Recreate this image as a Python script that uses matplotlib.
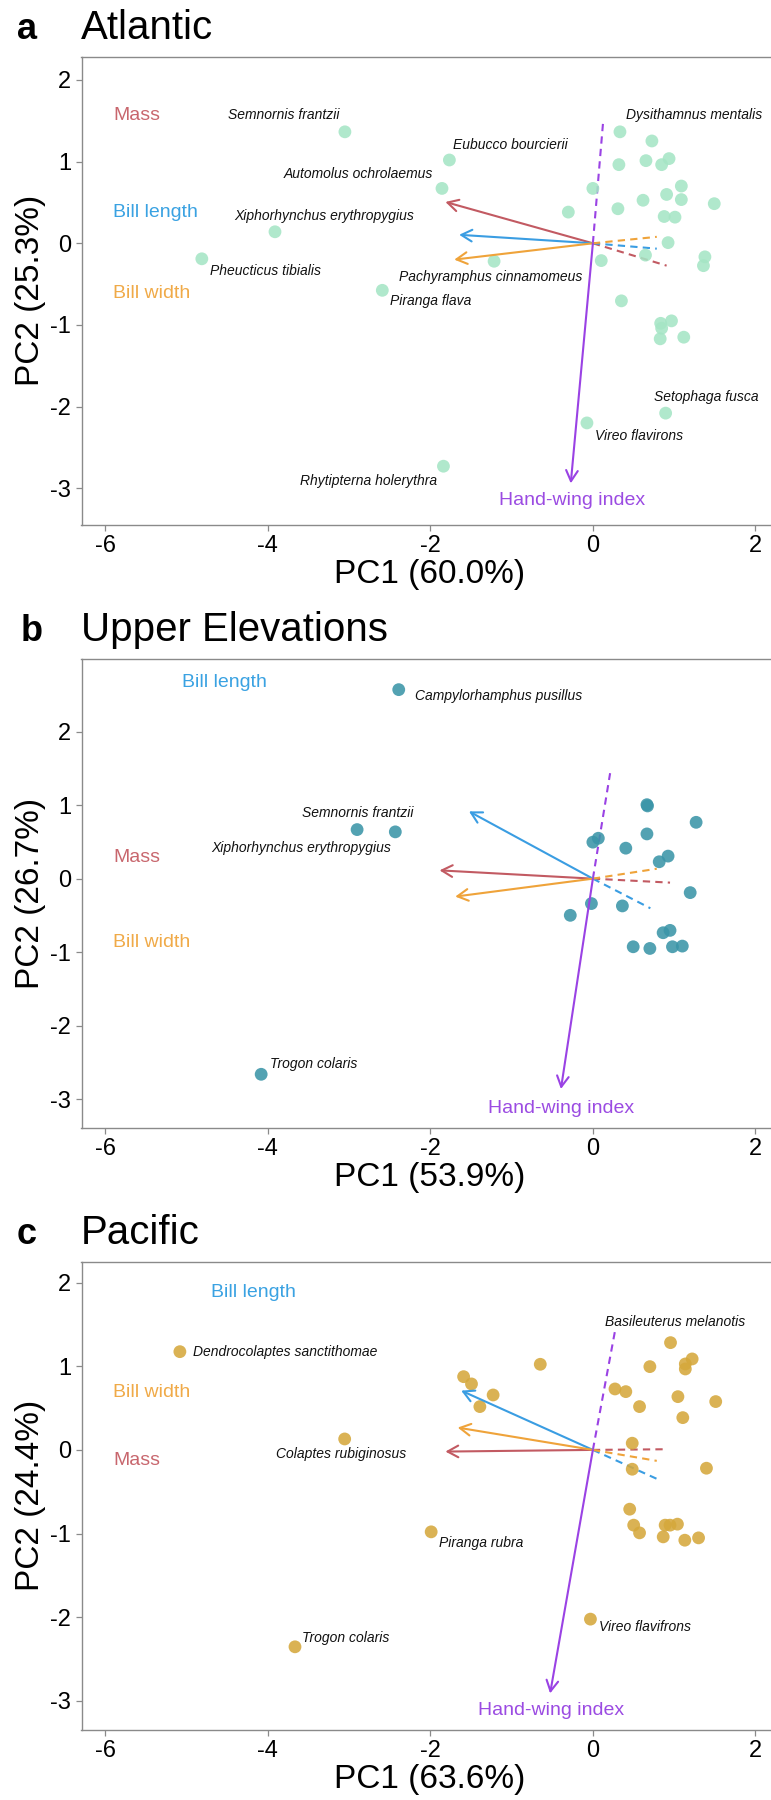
import matplotlib
matplotlib.use("Agg")
import matplotlib.pyplot as plt

plt.rcParams['font.family'] = ['Liberation Sans', 'DejaVu Sans']

# ---------------- DATA ----------------
titles = ["Atlantic", "Upper Elevations", "Pacific"]
letters = ["a", "b", "c"]
pc1_labels = ["PC1 (60.0%)", "PC1 (53.9%)", "PC1 (63.6%)"]
pc2_labels = ["PC2 (25.3%)", "PC2 (26.7%)", "PC2 (24.4%)"]
point_colors = ["#a5e5c5", "#3b95a8", "#d5a83c"]
ylims = [(-3.45, 2.285), (-3.39, 2.986), (-3.35, 2.251)]
xticks = [-6, -4, -2, 0, 2]
yticks = [-3, -2, -1, 0, 1, 2]

# species scores (PC1, PC2)
a_x = [-3.05, -1.765, -1.856, -3.91, -4.81, -1.215, -2.59, 0.895, -0.073, -1.838,
       0.333, 0.726, 0.320, 0.653, 0.846, 0.937, 0.0, 1.088, -0.302, 0.308, 0.617,
       0.907, 1.088, 1.493, 0.877, 1.01, 0.925, 0.103, 0.647, 1.378, 1.36,
       0.351, 0.834, 0.967, 0.846, 0.828, 1.118]
a_y = [1.365, 1.02, 0.672, 0.141, -0.19, -0.22, -0.576, -2.08, -2.2, -2.73,
       1.365, 1.253, 0.963, 1.012, 0.963, 1.037, 0.672, 0.701, 0.382, 0.423, 0.527,
       0.598, 0.535, 0.485, 0.328, 0.320, 0.008, -0.212, -0.145, -0.166, -0.274,
       -0.705, -0.98, -0.95, -1.04, -1.17, -1.15]

b_x = [-2.388, -2.90, -2.43, -4.08,
       0.665, 0.672, 1.27, 0.0, 0.067, 0.665, 0.405, 0.925, 0.816, 1.197,
       -0.018, 0.363, -0.278, 0.864, 0.949, 0.496, 0.701, 0.979, 1.1]
b_y = [2.573, 0.668, 0.637, -2.663,
       1.007, 0.99, 0.767, 0.497, 0.55, 0.609, 0.415, 0.307, 0.23, -0.19,
       -0.339, -0.371, -0.499, -0.736, -0.704, -0.927, -0.95, -0.927, -0.918]

c_x = [-5.08, -3.053, -1.989, -3.664, -0.03,
       -1.59, -1.493, -1.227, -1.39, -0.647, 0.272, 0.405, 0.574, 0.701, 0.955,
       1.137, 1.221, 1.137, 1.046, 1.511, 1.106, 0.484, 0.484, 1.397,
       0.453, 0.502, 0.574, 0.889, 0.949, 1.04, 0.865, 1.131, 1.3]
c_y = [1.175, 0.131, -0.98, -2.355, -2.024,
       0.876, 0.789, 0.657, 0.518, 1.024, 0.729, 0.697, 0.518, 0.996, 1.283,
       1.028, 1.088, 0.968, 0.637, 0.578, 0.386, 0.08, -0.231, -0.219,
       -0.709, -0.9, -0.992, -0.9, -0.9, -0.888, -1.04, -1.08, -1.052]

# species label text and anchor (data coords)
a_lab = ["Semnornis frantzii", "Dysithamnus mentalis", "Eubucco bourcierii",
         "Automolus ochrolaemus", "Xiphorhynchus erythropygius", "Pheucticus tibialis",
         "Pachyramphus cinnamomeus", "Piranga flava", "Setophaga fusca",
         "Vireo flavirons", "Rhytipterna holerythra"]
a_lab_x = [-3.80, 1.24, -1.02, -2.89, -3.30, -4.03, -1.26, -1.99, 1.40, 0.562, -2.763]
a_lab_y = [1.565, 1.565, 1.20, 0.846, 0.336, -0.336, -0.415, -0.71, -1.877, -2.354, -2.91]

b_lab = ["Campylorhamphus pusillus", "Semnornis frantzii",
         "Xiphorhynchus erythropygius", "Trogon colaris"]
b_lab_x = [-1.16, -2.89, -3.585, -3.44]
b_lab_y = [2.483, 0.894, 0.42, -2.52]

c_lab = ["Basileuterus melanotis", "Dendrocolaptes sanctithomae",
         "Colaptes rubiginosus", "Piranga rubra", "Trogon colaris", "Vireo flavifrons"]
c_lab_x = [1.01, -3.79, -3.096, -1.372, -3.035, 0.635]
c_lab_y = [1.534, 1.175, -0.048, -1.112, -2.255, -2.116]

# loadings: variables
variables = ["Mass", "Bill length", "Bill width", "Hand-wing index"]
var_colors = ["#c25a62", "#3a9de2", "#efa33a", "#9a42e4"]
var_text_colors = ["#c8666d", "#3aa2e2", "#f0aa48", "#9b4be2"]
# solid arrows (tips)
a_arr_x = [-1.814, -1.645, -1.705, -0.272]
a_arr_y = [0.506, 0.104, -0.20, -2.94]
b_arr_x = [-1.886, -1.524, -1.693, -0.393]
b_arr_y = [0.113, 0.916, -0.244, -2.863]
c_arr_x = [-1.814, -1.62, -1.663, -0.526]
c_arr_y = [-0.02, 0.709, 0.267, -2.912]
# dashed segments (ends)
a_dash_x = [0.907, 0.786, 0.786, 0.127]
a_dash_y = [-0.274, -0.066, 0.079, 1.50]
b_dash_x = [0.949, 0.707, 0.786, 0.212]
b_dash_y = [-0.054, -0.403, 0.135, 1.436]
c_dash_x = [0.907, 0.816, 0.786, 0.272]
c_dash_y = [0.008, -0.359, -0.131, 1.422]
# variable name labels
a_vl_x = [-5.9, -5.9, -5.9, -0.254]
a_vl_y = [1.565, 0.382, -0.616, -3.15]
b_vl_x = [-5.9, -5.05, -5.9, -0.393]
b_vl_y = [0.293, 2.677, -0.863, -3.128]
c_vl_x = [-5.9, -4.698, -5.9, -0.514]
c_vl_y = [-0.131, 1.88, 0.685, -3.112]

panels = [
    (a_x, a_y, a_lab, a_lab_x, a_lab_y, a_arr_x, a_arr_y, a_dash_x, a_dash_y, a_vl_x, a_vl_y),
    (b_x, b_y, b_lab, b_lab_x, b_lab_y, b_arr_x, b_arr_y, b_dash_x, b_dash_y, b_vl_x, b_vl_y),
    (c_x, c_y, c_lab, c_lab_x, c_lab_y, c_arr_x, c_arr_y, c_dash_x, c_dash_y, c_vl_x, c_vl_y),
]

# ---------------- FIGURE ----------------
W, H = 771, 1800
fig = plt.figure(figsize=(W / 100, H / 100), dpi=100)

left_px, right_px = 81.5, 778.0
tops = [56.7, 659.3, 1261.7]
bottoms = [525.0, 1127.7, 1730.0]
title_base = [39.3, 640.7, 1244.3]
letter_x = [17.0, 21.0, 17.0]
x_unit = 81.3
xmin = -6.29
xmax = xmin + (right_px - left_px) / x_unit
spine_col = "#8a8a8a"

for i, (px, py, lab, lx, ly, ax_, ay_, dx_, dy_, vx, vy) in enumerate(panels):
    ax = fig.add_axes([left_px / W, 1 - bottoms[i] / H,
                       (right_px - left_px) / W, (bottoms[i] - tops[i]) / H])
    ax.set_xlim(xmin, xmax)
    ax.set_ylim(*ylims[i])
    for s in ["top", "left", "bottom"]:
        ax.spines[s].set_color(spine_col)
        ax.spines[s].set_linewidth(1.0)
    ax.spines["right"].set_visible(False)
    ax.set_xticks(xticks)
    ax.set_yticks(yticks)
    ax.set_xticklabels([str(t) for t in xticks])
    ax.set_yticklabels([str(t) for t in yticks])
    ax.tick_params(axis="both", length=4, width=0.9, color=spine_col,
                   labelsize=17, labelcolor="black", pad=3.5)
    ax.set_xlabel(pc1_labels[i], fontsize=24, labelpad=1)
    ax.set_ylabel(pc2_labels[i], fontsize=24, labelpad=3)

    # points
    ax.scatter(px, py, s=85, color=point_colors[i], alpha=0.88,
               edgecolors="none", zorder=3)

    # dashed loadings
    for k in range(len(variables)):
        ax.plot([0, dx_[k]], [0, dy_[k]], linestyle=(0, (3.5, 2.5)),
                color=var_colors[k], lw=1.5, zorder=2)
    # solid arrows
    for k in range(len(variables)):
        ax.annotate("", xy=(ax_[k], ay_[k]), xytext=(0, 0),
                    arrowprops=dict(arrowstyle="->,head_length=0.55,head_width=0.3",
                                    color=var_colors[k], lw=1.5,
                                    shrinkA=0, shrinkB=0, mutation_scale=14),
                    zorder=4)
    # variable labels
    for k in range(len(variables)):
        ha = "center" if variables[k] == "Hand-wing index" else "left"
        ax.text(vx[k], vy[k], variables[k], color=var_text_colors[k],
                fontsize=14, ha=ha, va="center", zorder=5)
    # species labels
    for k in range(len(lab)):
        ax.text(lx[k], ly[k], lab[k], fontsize=10, style="italic",
                ha="center", va="center", color="#111111", zorder=5)

    fig.text(letter_x[i] / W, 1 - title_base[i] / H, letters[i], fontsize=26,
             fontweight="bold", ha="left", va="baseline")
    fig.text(81 / W, 1 - title_base[i] / H, titles[i], fontsize=29,
             ha="left", va="baseline")

fig.savefig("out.png", dpi=100)
